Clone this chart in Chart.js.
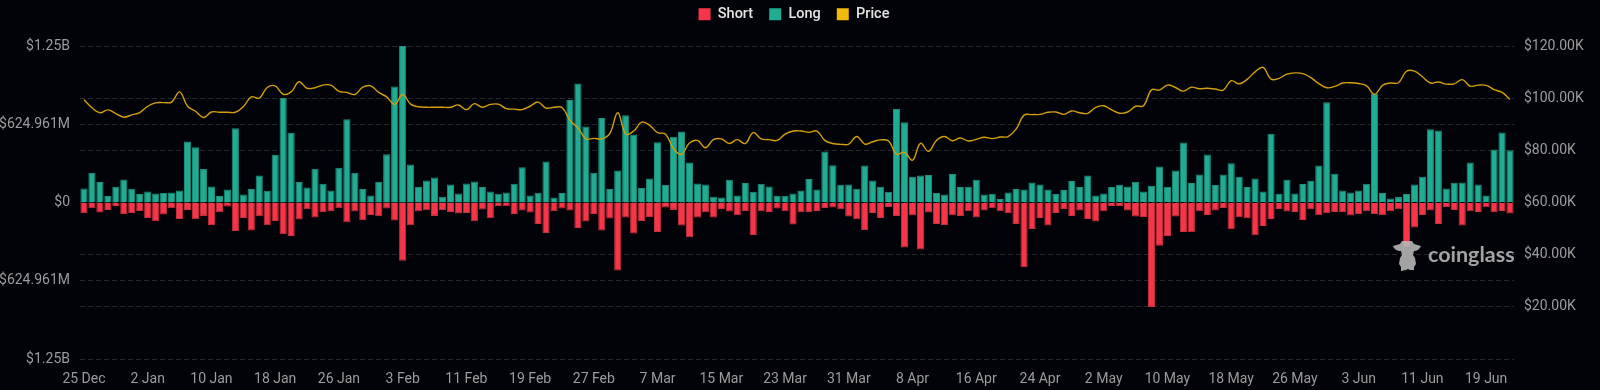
<!DOCTYPE html>
<html>
<head>
<meta charset="utf-8">
<title>Long / Short liquidations</title>
<script src="https://cdn.jsdelivr.net/npm/chart.js@4/dist/chart.umd.min.js"></script>
<style>
  html, body { margin: 0; padding: 0; background: #020309; }
  #wrap { position: relative; width: 1600px; height: 390px; overflow: hidden; }
  #watermark { position: absolute; left: 1393px; top: 241px; height: 30px; display: flex; align-items: center; }
  #watermark span { font-family: 'Lato', sans-serif; font-weight: 700; font-size: 21.5px; color: rgba(172,172,172,0.95); margin-left: 7px; margin-top: -4px; }
</style>
</head>
<body>
<div id="wrap">
  <canvas id="chart" width="1600" height="390"></canvas>
  <div id="watermark">
    <svg width="28" height="30" viewBox="0 0 28 30">
      <path fill="rgba(186,186,186,0.88)" d="M0 5 L7 3 L9 0 L19 0 L21 3 L28 5 C27 8 24 10 21 10 L20 14 L22 17 L23 23 L21 26 L21 29 L17 29 L15 28 L13 29 L8 30 L8 26 L6 23 L7 17 L9 14 L8 10 C4 10 1 8 0 5 Z"/>
    </svg>
    <span>coinglass</span>
  </div>
</div>
<script>
// x axis, one tick label every 8 days
const tickLabels = ['25 Dec','2 Jan','10 Jan','18 Jan','26 Jan','3 Feb','11 Feb','19 Feb','27 Feb','7 Mar','15 Mar','23 Mar','31 Mar','8 Apr','16 Apr','24 Apr','2 May','10 May','18 May','26 May','3 Jun','11 Jun','19 Jun'];
const tickEvery = 8;
const dayCount = 180;

// liquidations in $M
const longValues = [
  112,237,163,51,125,184,109,67,88,72,75,80,96,488,442,267,128,51,104,594,
  64,107,216,93,381,834,557,163,120,269,149,96,277,664,237,107,56,165,386,927,
  1250,304,123,176,200,45,144,72,152,168,123,88,69,80,149,282,56,77,328,40,
  75,818,951,608,237,674,107,256,696,544,115,192,482,139,525,568,320,152,144,45,
  40,181,56,155,85,149,128,53,53,72,96,187,104,408,298,141,144,109,296,176,
  125,85,746,640,205,216,219,75,64,227,123,125,181,64,69,27,80,107,104,160,
  144,104,67,99,171,123,216,56,72,123,141,128,165,88,133,288,125,256,480,155,
  224,384,139,224,314,205,123,192,88,549,69,181,72,147,173,296,800,229,96,80,
  96,149,871,75,32,43,67,144,205,586,576,112,157,160,320,144,56,424,560,418
];
const shortValues = [
  -85,-45,-80,-59,-27,-91,-83,-67,-123,-149,-96,-45,-131,-59,-133,-107,-179,-77,-32,-227,
  -123,-224,-109,-181,-147,-253,-267,-136,-53,-120,-77,-69,-45,-157,-72,-141,-99,-109,-48,-144,
  -466,-181,-69,-61,-107,-61,-75,-88,-83,-149,-56,-125,-27,-29,-91,-64,-80,-171,-243,-69,
  -48,-64,-203,-152,-91,-224,-128,-544,-120,-248,-147,-115,-235,-40,-59,-184,-277,-120,-77,-120,
  -51,-72,-101,-67,-259,-69,-75,-48,-69,-176,-77,-77,-67,-43,-40,-53,-112,-133,-219,-83,
  -123,-35,-107,-360,-101,-376,-80,-171,-179,-101,-107,-69,-120,-64,-45,-69,-85,-171,-517,-211,
  -123,-184,-83,-51,-107,-64,-131,-152,-69,-27,-27,-64,-112,-115,-834,-346,-267,-112,-235,-237,
  -69,-99,-64,-43,-213,-117,-125,-261,-187,-131,-51,-72,-75,-139,-53,-101,-85,-75,-75,-104,
  -91,-69,-91,-101,-69,-53,-354,-200,-99,-64,-171,-35,-59,-184,-69,-75,-37,-77,-67,-88
];
// price in $K
const priceValues = [
  99.4,96.3,94.4,95.5,94.1,92.7,93.6,94.5,96.9,98.2,98.3,98.5,102.4,96.9,95,92.6,94.7,94.6,94.6,94.6,
  96.7,100.5,100,104.1,104.7,101.5,102.4,106.3,103.8,104,105,105,102.6,102.2,101.4,104.2,104.7,102.2,100.5,97.6,
  101.4,97.7,96.7,96.5,96.5,96.5,96.5,97.4,95.6,97.9,96.5,97.6,97.7,96,95.8,95.6,96.9,98.5,96.2,96.5,
  96.4,91.5,88.6,84.4,84.6,84.4,86.4,94.4,86.2,87.4,90.8,89.6,86.8,86.2,80.6,78.5,82.8,83.8,81,84.1,
  84.4,82.6,84.1,82.6,86.8,84.4,84.1,83.8,86.2,87.4,87.4,86.9,87.4,83.8,82.6,82.3,82.4,85.3,82.4,83.3,
  84,83.6,78.5,79.2,76.2,82.7,79.6,83.8,85.3,83.7,84.7,83.6,84.2,85,84.5,85.1,85.3,88.1,93.5,93.7,
  93.8,94.6,94.7,93.8,95.1,94.4,94.2,96.5,97.1,95.5,94.2,94.7,96.9,97.1,103.2,103.1,105,104.1,102.7,104.2,
  103.6,103.8,103.5,103.1,106.7,105.5,107.2,110.1,111.8,107.3,107.6,109.2,109.7,109.4,107.9,105.6,104,104.5,105.8,105.9,
  105.6,104.7,101.5,104.9,105.8,105.9,110.3,110.4,108.2,105.8,106.2,105.4,105.5,107.1,104.6,105,104.9,103.3,102.2,99.5
];
const leftTicks = [-1250, -624.961, 0, 624.961, 1250];
const rightMax = 120;
const rightStep = 20;

const categories = new Array(dayCount).fill('');
tickLabels.forEach((label, i) => { categories[i * tickEvery] = label; });

const tickColor = '#9c9c9c';
const gridColor = '#26272b';
const tickFont = { family: 'Roboto', size: 14 };

function formatLeft(value) {
  const abs = Math.abs(value);
  if (abs === 0) return '$0';
  if (abs >= 1000) return '$' + (abs / 1000) + 'B';
  return '$' + abs + 'M';
}

function formatRight(value) {
  if (value === 0) return '';
  return '$' + value.toFixed(2) + 'K';
}

// legend keeps the whole band above the plot, sits a bit left of centre and near the top
const legendBand = {
  id: 'legendBand',
  beforeInit(chart) {
    const fit = chart.legend.fit;
    chart.legend.fit = function () {
      fit.call(this);
      this.height = 46;
    };
  },
  afterLayout(chart) {
    chart.legend.top -= 9;
    chart.legend.left -= 6;
    chart.legend.right -= 6;
  }
};

new Chart(document.getElementById('chart').getContext('2d'), {
  type: 'bar',
  data: {
    labels: categories,
    datasets: [
      { label: 'Short', data: shortValues, yAxisID: 'y', order: 2, backgroundColor: '#f63648', borderColor: '#c4303f', borderWidth: 1, barPercentage: 0.9, categoryPercentage: 1 },
      { label: 'Long', data: longValues, yAxisID: 'y', order: 3, backgroundColor: '#20ab92', borderColor: '#1b907c', borderWidth: 1, barPercentage: 0.9, categoryPercentage: 1 },
      { label: 'Price', type: 'line', data: priceValues, yAxisID: 'y1', order: 1, borderColor: '#d39f0c', backgroundColor: '#f0b90b', borderWidth: 1.4, pointRadius: 0, tension: 0.4 }
    ]
  },
  options: {
    responsive: false,
    animation: false,
    layout: { padding: 0 },
    plugins: {
      legend: {
        position: 'top',
        labels: {
          boxWidth: 12,
          boxHeight: 12,
          padding: 16,
          color: '#e4e4e4',
          font: { family: 'Roboto', size: 14.5, weight: '500' },
          sort: (a, b) => a.datasetIndex - b.datasetIndex,
          generateLabels(chart) {
            const items = Chart.defaults.plugins.legend.labels.generateLabels(chart);
            items.forEach((item) => { item.lineWidth = 0; });
            return items;
          }
        }
      },
      tooltip: { enabled: false }
    },
    scales: {
      x: {
        stacked: true,
        grid: { display: false },
        border: { display: false },
        afterFit(scale) { scale.height = 31; },
        ticks: {
          autoSkip: false,
          maxRotation: 0,
          padding: 4,
          color: tickColor,
          font: tickFont,
          callback: (value) => categories[value]
        }
      },
      y: {
        stacked: true,
        position: 'left',
        min: -1250,
        max: 1250,
        afterFit(scale) { scale.width = 80; },
        afterBuildTicks(scale) { scale.ticks = leftTicks.map((value) => ({ value })); },
        grid: { color: gridColor, drawTicks: false },
        border: { display: false, dash: [5, 3] },
        ticks: { padding: 10, color: tickColor, font: tickFont, callback: formatLeft }
      },
      y1: {
        position: 'right',
        min: 0,
        max: rightMax,
        afterFit(scale) { scale.width = 86; },
        grid: { color: gridColor, drawTicks: false },
        border: { display: false, dash: [5, 3] },
        ticks: { stepSize: rightStep, padding: 10, color: tickColor, font: tickFont, callback: formatRight }
      }
    }
  },
  plugins: [legendBand]
});
</script>
</body>
</html>
